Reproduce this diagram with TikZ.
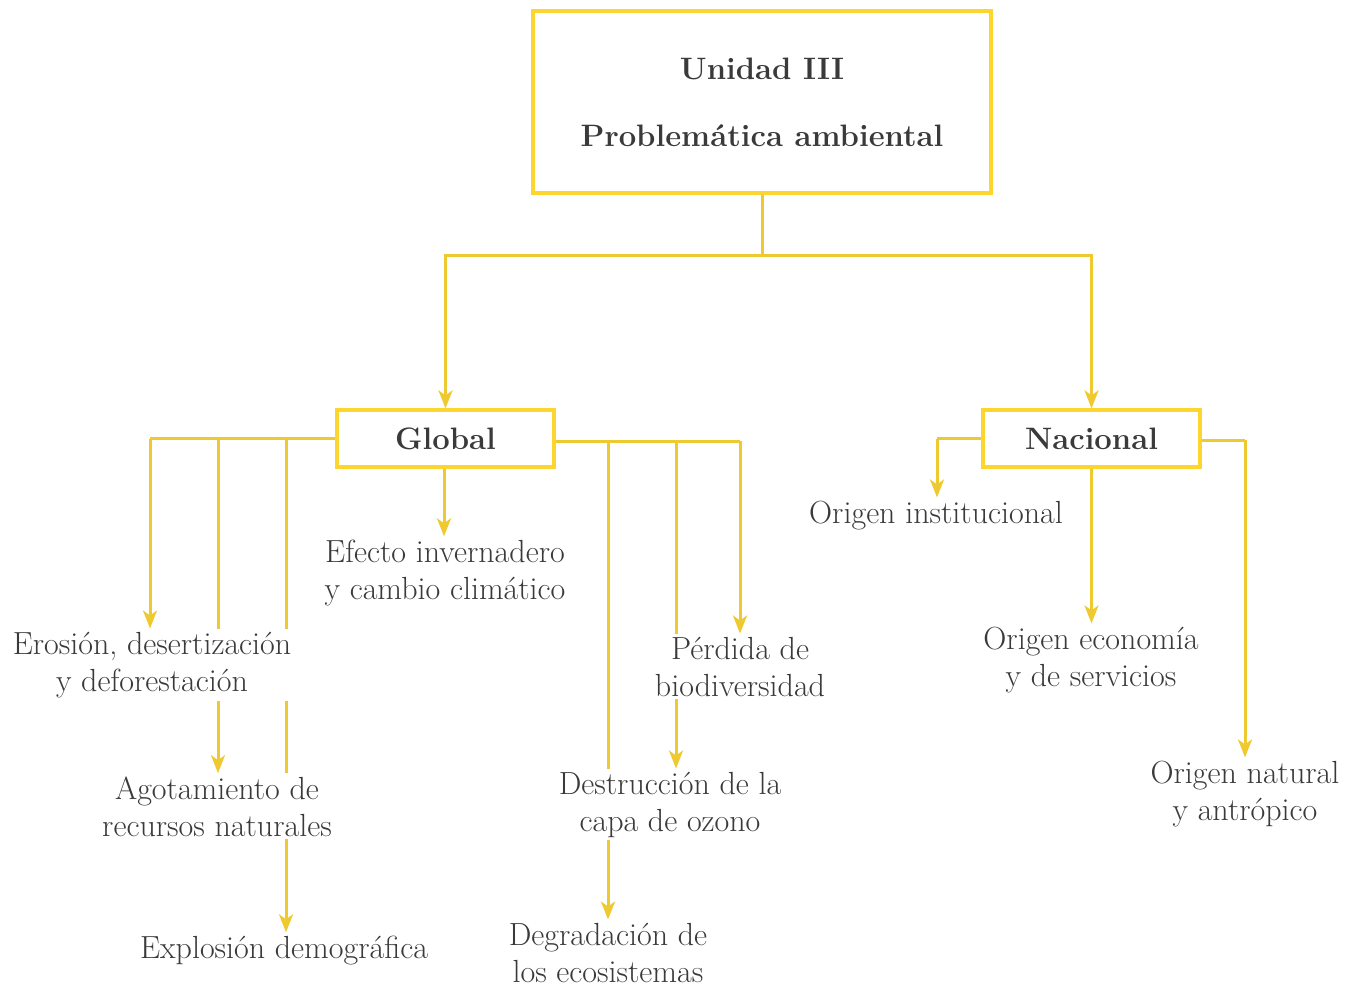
\documentclass[tikz,border=0pt]{standalone}
\usepackage{fontspec}
\usetikzlibrary{arrows.meta,backgrounds}
\definecolor{ln}{HTML}{EECA30}
\definecolor{bx}{HTML}{FDD52F}
\definecolor{tx}{HTML}{3A3A3A}
\begin{document}
\begin{tikzpicture}[x=1pt,y=-1pt,
 lbl/.style={align=center,font=\rmfamily\fontsize{32}{37}\selectfont,text=tx,fill=white,inner sep=3pt,anchor=base},
 box/.style={draw=bx,line width=3.2pt,text=tx,font=\rmfamily\fontsize{31}{40}\selectfont\bfseries,minimum height=57pt,minimum width=217pt,inner sep=0pt,fill=white},
 con/.style={draw=ln,line width=3pt},
 arr/.style={con,-{Stealth[length=18pt,width=14pt,inset=5pt]}}]
\useasboundingbox (0,0) rectangle (1356,988);
% boxes
\node[box,minimum width=458pt,minimum height=182pt,align=center] (top) at (762,102) {Unidad III\\[27pt]Problemática ambiental};
\node[box] (global) at (445.5,438.5) {Global};
\node[box] (nacional) at (1091.5,438.5) {Nacional};
% labels (base anchor = baseline of last line)
\node[lbl,inner xsep=8pt] (erosion) at (152,691) {Erosión, desertización\\y deforestación};
\node[lbl] (agot) at (217,836) {Agotamiento de\\recursos naturales};
\node[lbl] (explos) at (284,958) {Explosión demográfica};
\node[lbl] (efecto) at (445,599) {Efecto invernadero\\y cambio climático};
\node[lbl] (perdida) at (740,696) {Pérdida de\\biodiversidad};
\node[lbl] (destr) at (670,831) {Destrucción de la\\capa de ozono};
\node[lbl] (degr) at (608,982) {Degradación de\\los ecosistemas};
\node[lbl] (oinst) at (936,523) {Origen institucional};
\node[lbl] (oeco) at (1091,686) {Origen economía\\y de servicios};
\node[lbl] (onat) at (1245,820) {Origen natural\\y antrópico};
\begin{scope}[on background layer]
% top to second level
\coordinate (j) at (762,255);
\draw[con] (top.south) -- (j);
\draw[arr] (j) -| (global.north);
\draw[arr] (j) -| (nacional.north);
% global left
\coordinate (gl1) at (150,438.5);
\coordinate (gl2) at (218,438.5);
\coordinate (gl3) at (286,438.5);
\draw[con] (global.west) -- (gl1);
\draw[arr] (gl1) -- (gl1 |- erosion.north);
\draw[arr] (gl2) -- (gl2 |- agot.north);
\draw[arr] (gl3) -- (gl3 |- explos.north);
% global down
\draw[arr] (global.south -| 444,0) -- (444,0 |- efecto.north);
% global right
\coordinate (gr1) at (608,441);
\coordinate (gr2) at (676,441);
\coordinate (gr3) at (740,441);
\draw[con] (global.east |- gr1) -- (gr3);
\draw[arr] (gr3) -- (gr3 |- perdida.north);
\draw[arr] (gr2) -- (gr2 |- destr.north);
\draw[arr] (gr1) -- (gr1 |- degr.north);
% nacional
\coordinate (nl) at (937,438.5);
\coordinate (nr) at (1245,440);
\draw[con] (nacional.west) -- (nl);
\draw[arr] (nl) -- (nl |- oinst.north);
\draw[arr] (nacional.south) -- (nacional.south |- oeco.north);
\draw[con] (nacional.east |- nr) -- (nr);
\draw[arr] (nr) -- (nr |- onat.north);
\end{scope}
\end{tikzpicture}
\end{document}
